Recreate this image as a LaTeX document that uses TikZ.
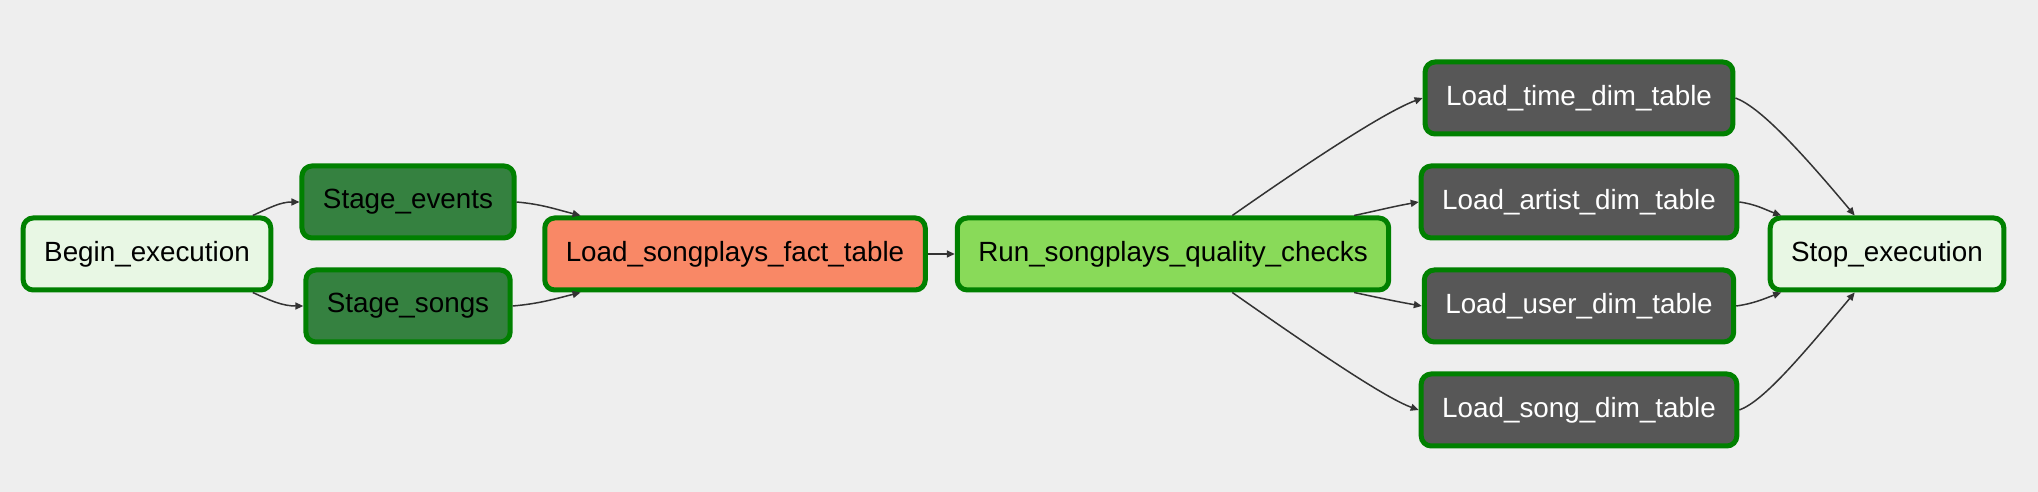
\documentclass[tikz,border=0pt]{standalone}
\usepackage{fontspec}
\setmainfont{Liberation Sans}
\usepackage{tikz}
\usetikzlibrary{arrows.meta}

\definecolor{bg}{HTML}{EEEEEE}
\definecolor{okgreen}{HTML}{008000}
\definecolor{dummy}{HTML}{E8F7E4}
\definecolor{stage}{HTML}{358140}
\definecolor{fact}{HTML}{F98866}
\definecolor{quality}{HTML}{89DA59}
\definecolor{dim}{HTML}{575757}
\definecolor{edge}{HTML}{333333}

\begin{document}
\begin{tikzpicture}[x=0.5pt, y=0.5pt,
    task/.style={draw=okgreen, line width=2.5pt, rounded corners=5pt,
        minimum height=36pt, inner xsep=10.5pt, inner ysep=0pt,
        font=\fontsize{13.9pt}{16pt}\selectfont},
    flow/.style={draw=edge, line width=0.75pt,
        -{Triangle[length=4pt, width=3.5pt]}}]

    \fill[bg] (0,0) rectangle (2038,492);

    \node[task, fill=dummy] (begin) at (147,238) {Begin\_execution};

    \node[task, fill=stage] (events) at (408,290) {Stage\_events};

    \node[task, fill=stage] (songs) at (408,186) {Stage\_songs};

    \node[task, fill=fact] (fact) at (735,238) {Load\_songplays\_fact\_table};

    \node[task, fill=quality] (check) at (1173,238) {Run\_songplays\_quality\_checks};

    \node[task, fill=dim, text=white] (time) at (1579,394) {Load\_time\_dim\_table};

    \node[task, fill=dim, text=white] (artist) at (1579,290) {Load\_artist\_dim\_table};

    \node[task, fill=dim, text=white] (user) at (1579,186) {Load\_user\_dim\_table};

    \node[task, fill=dim, text=white] (song) at (1579,82) {Load\_song\_dim\_table};

    \node[task, fill=dummy] (stop) at (1887,238) {Stop\_execution};

    \draw[flow] (begin.20) to[out=25, in=180] (events.west);
    \draw[flow] (begin.-20) to[out=-25, in=180] (songs.west);

    \draw[flow] (events.east) to[out=-5, in=166] (fact.166);
    \draw[flow] (songs.east) to[out=5, in=194] (fact.194);

    \draw[flow] (fact.east) -- (check.west);

    \draw[flow] (check.33) to[out=35, in=200, out looseness=1.3, in looseness=0.4] (time.west);
    \draw[flow] (check.12) to[out=12, in=190] (artist.west);
    \draw[flow] (check.-12) to[out=-12, in=170] (user.west);
    \draw[flow] (check.-33) to[out=-35, in=160, out looseness=1.3, in looseness=0.4] (song.west);

    \draw[flow] (time.east) to[out=-20, in=130, out looseness=0.4, in looseness=1.3] (stop.130);
    \draw[flow] (artist.east) to[out=-8, in=160] (stop.160);
    \draw[flow] (user.east) to[out=8, in=200] (stop.200);
    \draw[flow] (song.east) to[out=20, in=230, out looseness=0.4, in looseness=1.3] (stop.230);

\end{tikzpicture}
\end{document}
